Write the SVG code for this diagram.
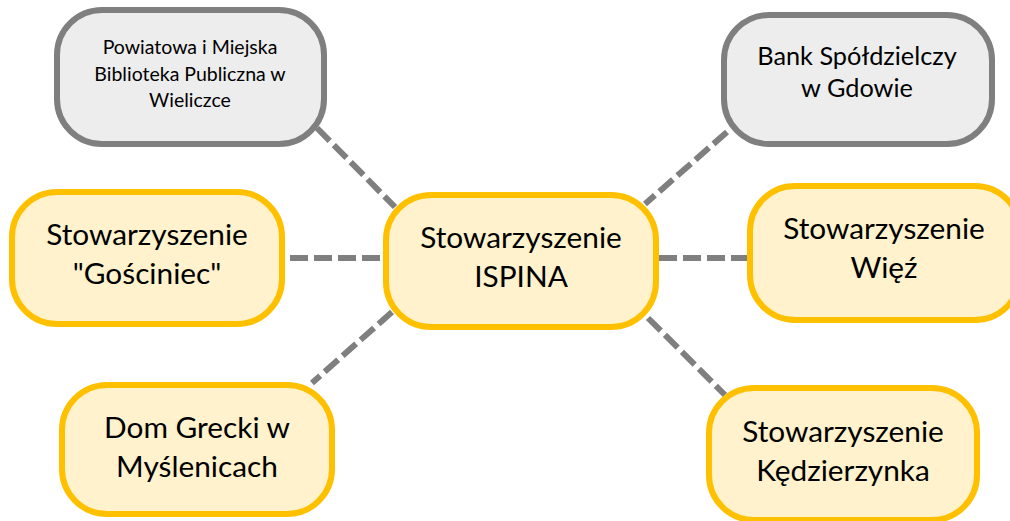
<svg xmlns="http://www.w3.org/2000/svg" width="1010" height="521" viewBox="0 0 1010 521">
  <style>
    .partner rect { fill: #FFF2CC; stroke: #FFC000; stroke-width: 6; }
    .other rect { fill: #EDEDED; stroke: #7F7F7F; stroke-width: 6; }
    text { font-family: Lato, "Open Sans", sans-serif; fill: #000; text-anchor: middle; }
    .big { font-size: 29.8px; }
    .mid { font-size: 25.3px; }
    .small { font-size: 19.5px; }
    .link { stroke: #7F7F7F; stroke-width: 6; stroke-dasharray: 18 6; fill: none; }
  </style>
  <rect width="1010" height="521" fill="#FFFFFF"/>

  <!-- dashed links from the hub to each partner -->
  <g id="connectors">
    <line class="link" x1="317" y1="128" x2="395" y2="207"/>
    <line class="link" x1="727" y1="132" x2="645" y2="204"/>
    <line class="link" x1="290" y1="258" x2="383" y2="258"/>
    <line class="link" x1="659" y1="258" x2="748" y2="258"/>
    <line class="link" x1="392" y1="312" x2="312" y2="383"/>
    <line class="link" x1="648" y1="318" x2="725" y2="395"/>
  </g>

  <g id="biblioteka" class="other">
    <rect x="57" y="10" width="267" height="134" rx="45"/>
    <text class="small" x="190" y="54">Powiatowa i Miejska</text>
    <text class="small" x="190" y="81">Biblioteka Publiczna w</text>
    <text class="small" x="190" y="107">Wieliczce</text>
  </g>

  <g id="bank" class="other">
    <rect x="724" y="15" width="268" height="129" rx="45"/>
    <text class="mid" x="857" y="65">Bank Spółdzielczy</text>
    <text class="mid" x="857" y="97">w Gdowie</text>
  </g>

  <g id="ispina" class="partner">
    <rect x="386" y="195" width="270" height="132" rx="45"/>
    <text class="big" x="521" y="248">Stowarzyszenie</text>
    <text class="big" x="521" y="287">ISPINA</text>
  </g>

  <g id="gosciniec" class="partner">
    <rect x="12" y="192" width="270" height="132" rx="45"/>
    <text class="big" x="147" y="245">Stowarzyszenie</text>
    <text class="big" x="147" y="284">"Gościniec"</text>
  </g>

  <g id="wiez" class="partner">
    <rect x="750" y="186" width="270" height="134" rx="45"/>
    <text class="big" x="884" y="239">Stowarzyszenie</text>
    <text class="big" x="884" y="278">Więź</text>
  </g>

  <g id="dom-grecki" class="partner">
    <rect x="62" y="385" width="270" height="129" rx="45"/>
    <text class="big" x="197" y="438">Dom Grecki w</text>
    <text class="big" x="197" y="477">Myślenicach</text>
  </g>

  <g id="kedzierzynka" class="partner">
    <rect x="709" y="388" width="268" height="132" rx="45"/>
    <text class="big" x="843" y="442">Stowarzyszenie</text>
    <text class="big" x="843" y="481">Kędzierzynka</text>
  </g>
</svg>
